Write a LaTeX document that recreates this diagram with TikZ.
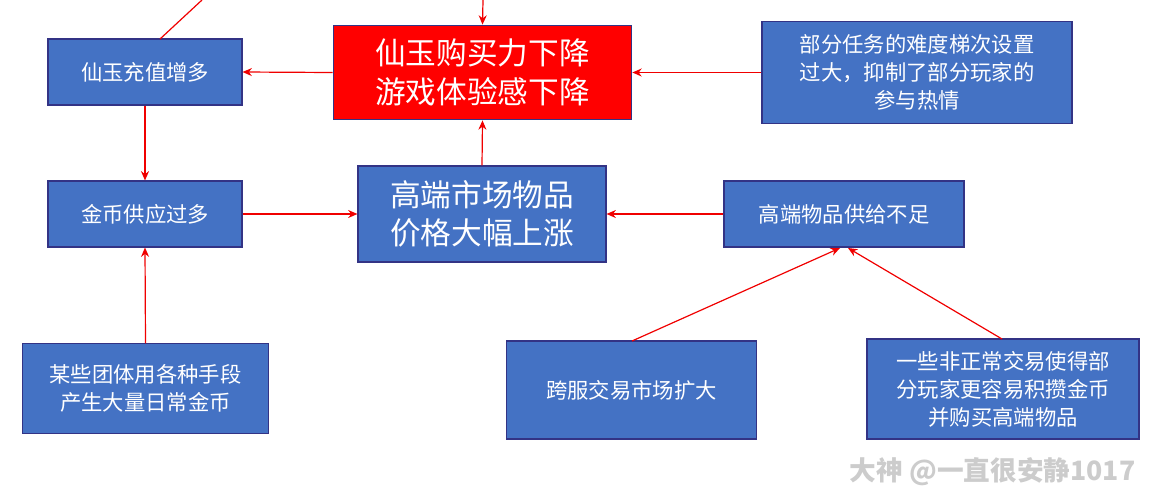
\documentclass[tikz,border=0pt]{standalone}
\usepackage{fontspec}
\setmainfont{Noto Sans CJK SC}
\usetikzlibrary{arrows.meta}
\begin{document}
\begin{tikzpicture}[x=0.75pt,y=-0.75pt,
  box/.style={draw=blue!40!black!80,line width=0.8pt,fill={rgb,255:red,68;green,114;blue,196},text=white,align=center,font=\fontsize{16}{21}\selectfont,inner sep=0pt},
  big/.style={box,font=\fontsize{23}{29}\selectfont},
  arr/.style={draw={rgb,255:red,240;green,0;blue,0},line width=0.9pt,-{Stealth[length=7pt,width=6pt]}}]
\useasboundingbox (0,0) rectangle (1149,500);
\node[box,minimum width=145.5pt,minimum height=49.5pt] (A) at (145,72) {仙玉充值增多};
\node[big,fill=red,minimum width=224pt,minimum height=71pt] (B) at (482.5,72.5) {仙玉购买力下降\\游戏体验感下降};
\node[box,minimum width=232.5pt,minimum height=76pt] (C) at (917,72.5) {部分任务的难度梯次设置\\过大，抑制了部分玩家的\\参与热情};
\node[box,minimum width=145.5pt,minimum height=49.5pt] (D) at (145,214) {金币供应过多};
\node[big,minimum width=186pt,minimum height=72pt] (E) at (482,214) {高端市场物品\\价格大幅上涨};
\node[box,minimum width=180pt,minimum height=49.5pt] (F) at (844,214) {高端物品供给不足};
\node[box,minimum width=185pt,minimum height=67pt] (G) at (145.5,388.5) {某些团体用各种手段\\产生大量日常金币};
\node[box,minimum width=187pt,minimum height=73.5pt] (H) at (631.5,390) {跨服交易市场扩大};
\node[box,minimum width=204pt,minimum height=75pt] (I) at (1003,389) {一些非正常交易使得部\\分玩家更容易积攒金币\\并购买高端物品};
\coordinate (t1) at (202,0);
\coordinate (t2) at (483,0);
\draw[arr,-] (t1) -- (160,39);
\draw[arr] (t2) -- (B.north);
\draw[arr] (B.west) -- (A.east);
\draw[arr] (C.west) -- (B.east);
\draw[arr] (A.south) -- (D.north);
\draw[arr] (D.east) -- (E.west);
\draw[arr] (E.north) -- (B.south);
\draw[arr] (F.west) -- (E.east);
\draw[arr] (G.north) -- (D.south);
\draw[arr] (632,341) -- (840,248);
\draw[arr] (1002,339) -- (848,248);
\node[text=black!20,font=\fontsize{20}{24}\selectfont\bfseries,anchor=east] (W) at (1140,472) {大神 @一直很安静1017};
\end{tikzpicture}
\end{document}
